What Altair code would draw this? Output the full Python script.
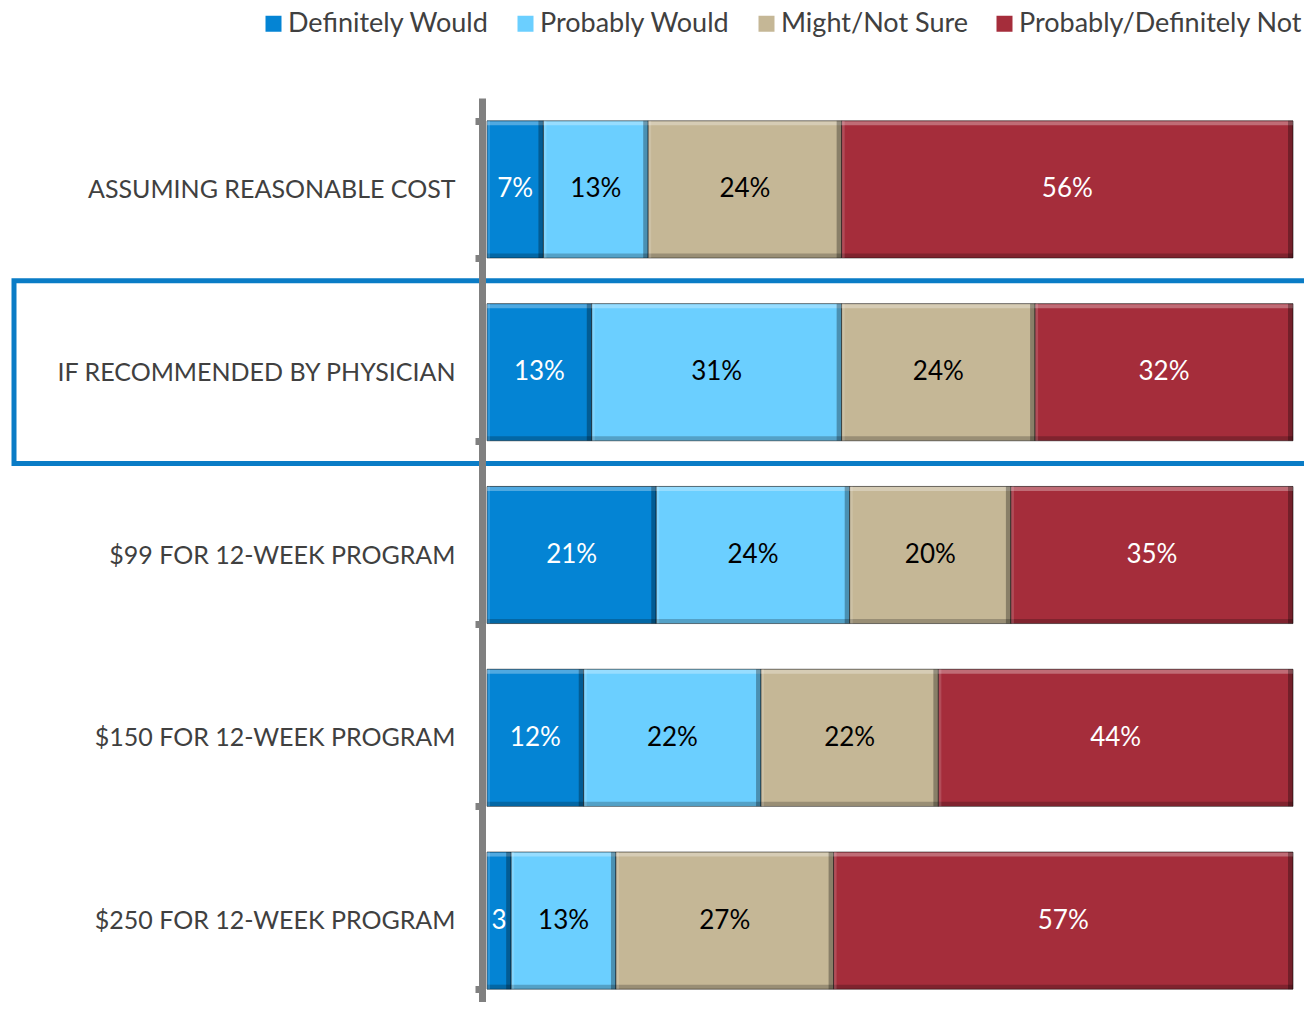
import altair as alt
import pandas as pd

categories = [
    "ASSUMING REASONABLE COST",
    "IF RECOMMENDED BY PHYSICIAN",
    "$99 FOR 12-WEEK PROGRAM",
    "$150 FOR 12-WEEK PROGRAM",
    "$250 FOR 12-WEEK PROGRAM",
]
series = ["Definitely Would", "Probably Would", "Might/Not Sure", "Probably/Definitely Not"]
definitely_would = [7, 13, 21, 12, 3]
probably_would = [13, 31, 24, 22, 13]
might_not_sure = [24, 24, 20, 22, 27]
probably_not = [56, 32, 35, 44, 57]
colors = ["#0484D4", "#6BCFFF", "#C5B796", "#A52D3B"]
text_colors = ["white", "black", "black", "white"]
highlight = "IF RECOMMENDED BY PHYSICIAN"

FONT = "Lato"
TEXT_GREY = "#404040"

rows = []
all_series = [definitely_would, probably_would, might_not_sure, probably_not]
for i, cat in enumerate(categories):
    start = 0
    for s, name in enumerate(series):
        v = all_series[s][i]
        end = start + v
        label = f"{v}%" if v >= 5 else f"{v}"
        rows.append({
            "category": cat, "series": name, "order": s,
            "start": start, "end": end, "mid": (start + end) / 2,
            "value": v, "label": label, "tcolor": text_colors[s],
        })
        start = end
df = pd.DataFrame(rows)

PLOT_H = 904
RANGE_H = 914
STEP = RANGE_H / 5.0
BAR_H = STEP * 0.75

y_scale = alt.Scale(paddingInner=0.25, paddingOuter=0.125, range=[0, RANGE_H])
y_enc = alt.Y(
    "category:N", sort=categories, scale=y_scale,
    axis=alt.Axis(
        title=None, labelFont=FONT, labelFontSize=25, labelColor=TEXT_GREY,
        labelPadding=20, labelLimit=0,
        domainColor="#808080", domainWidth=7,
        tickColor="#808080", tickWidth=7, tickSize=7, tickBand="extent",
        offset=5, zindex=1,
    ),
)
y_plain = alt.Y("category:N", sort=categories)
x_scale = alt.Scale(domain=[0, 100], nice=False, zero=True)

bars = alt.Chart(df).mark_bar(stroke="#000000", strokeWidth=1, strokeOpacity=0.55).encode(
    x=alt.X("start:Q", scale=x_scale, axis=None),
    x2="end:Q",
    y=y_enc,
    color=alt.Color(
        "series:N", sort=series,
        scale=alt.Scale(domain=series, range=colors),
        legend=alt.Legend(
            title=None, orient="none", legendX=-227, legendY=-88,
            direction="horizontal", columns=4,
            symbolType="square", symbolSize=256, symbolStrokeWidth=0,
            labelFont=FONT, labelFontSize=27, labelColor=TEXT_GREY,
            labelLimit=400, labelOffset=1, columnPadding=23,
        ),
    ),
    order=alt.Order("order:Q"),
)

# bevel effect strips
top_hl = alt.Chart(df).mark_bar(height=4, yOffset=-(BAR_H / 2) + 2.5, color="white", opacity=0.3).encode(
    x=alt.X("start:Q", scale=x_scale, axis=None), x2="end:Q", y=y_plain,
)
bottom_sh = alt.Chart(df).mark_bar(height=4, yOffset=(BAR_H / 2) - 2.5, color="black", opacity=0.22).encode(
    x=alt.X("start:Q", scale=x_scale, axis=None), x2="end:Q", y=y_plain,
)
right_sh = alt.Chart(df).mark_bar(xOffset=-5, color="black", opacity=0.3).encode(
    x=alt.X("end:Q", scale=x_scale, axis=None), x2="end:Q", y=y_plain,
)
left_hl = alt.Chart(df).mark_bar(x2Offset=3, color="white", opacity=0.15).encode(
    x=alt.X("start:Q", scale=x_scale, axis=None), x2="start:Q", y=y_plain,
)

labels = alt.Chart(df).mark_text(font=FONT, fontSize=26, align="center", baseline="middle").encode(
    x=alt.X("mid:Q", scale=x_scale, axis=None),
    y=y_plain,
    text="label:N",
    color=alt.Color("tcolor:N", scale=None),
)

box = alt.Chart(pd.DataFrame({"category": [highlight]})).mark_bar(
    filled=False, stroke="#0A7CC6", strokeWidth=5, height=STEP
).encode(
    y=y_plain,
    x=alt.value(-473),
    x2=alt.value(830),
)

chart = alt.layer(box, bars, top_hl, bottom_sh, right_sh, left_hl, labels).properties(
    width=806, height=PLOT_H,
    autosize=alt.AutoSizeParams(type="none"),
    padding={"left": 479, "top": 90, "right": 11, "bottom": 0},
).configure_view(stroke=None)

chart.save("out.html", embed_options={"renderer": "svg", "actions": False})
